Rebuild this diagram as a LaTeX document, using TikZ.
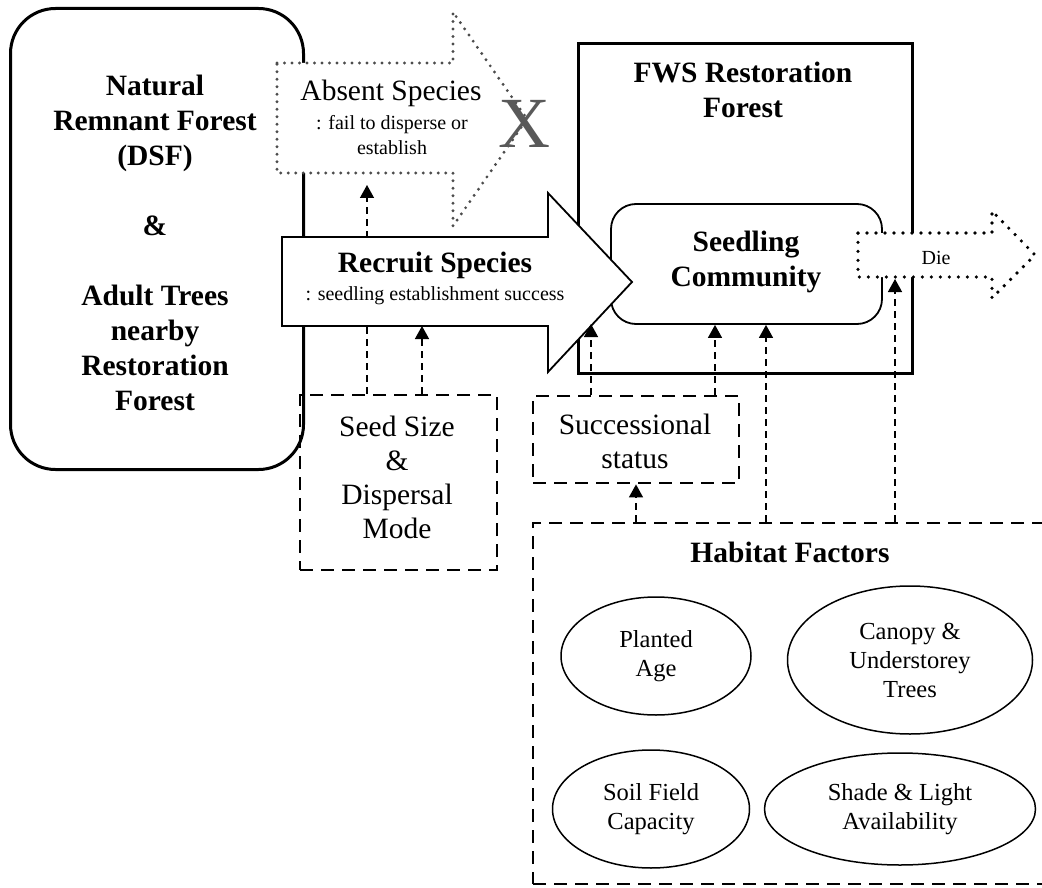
\documentclass[tikz,border=0pt]{standalone}
\usepackage{fontspec}
\setmainfont{Liberation Serif}
\usetikzlibrary{shapes.geometric,arrows.meta}
\begin{document}
\begin{tikzpicture}[x=1pt,y=-1pt,
  bigb/.style={font=\fontsize{29.5}{35}\selectfont\bfseries, align=center, inner sep=0pt},
  reg/.style={font=\fontsize{29.5}{34}\selectfont, align=center, inner sep=0pt},
  small/.style={font=\fontsize{20}{25}\selectfont, align=center, inner sep=0pt},
  ell/.style={draw, line width=1.5pt, ellipse, font=\fontsize{24.5}{29}\selectfont, align=center, inner sep=0pt},
  thickdash/.style={draw, line width=2.8pt, dash pattern=on 13pt off 8pt},
  conn/.style={line width=1.4pt, dash pattern=on 7pt off 5pt, -{Triangle[width=14pt,length=13pt]}},
  graydots/.style={draw=black!70, fill=white, line width=3.2pt, line cap=round, dash pattern=on 0pt off 7.5pt},
  blackdots/.style={draw=black, fill=white, line width=3.6pt, line cap=round, dash pattern=on 0pt off 9pt},
]
\useasboundingbox (0,0) rectangle (1042,888);

% left rounded box
\node[draw, line width=3pt, rounded corners=45pt, minimum width=293pt, minimum height=461pt, anchor=north west, inner sep=0pt] (nat) at (9,7) {};
\node[bigb] (natt) at (155,243) {Natural\\Remnant Forest\\(DSF)\\[35pt]\&\\[35pt]Adult Trees\\nearby\\Restoration\\Forest};

% FWS restoration forest
\node[draw, line width=3pt, minimum width=334pt, minimum height=330pt, anchor=north west, inner sep=0pt] (fws) at (577,42) {};
\node[bigb] (fwst) at (743,90) {FWS Restoration\\Forest};

% seedling community
\node[draw, line width=1.8pt, fill=white, rounded corners=25pt, minimum width=271pt, minimum height=120pt, inner sep=0pt] (sc) at (746.5,264) {};
\node[bigb] (sct) at (746,262) {Seedling\\Community};

% dashed boxes
\node[thickdash, minimum width=197pt, minimum height=175pt, inner sep=0pt] (seed) at (398.5,482.5) {};
\node[reg] (seedt) at (397,477) {Seed Size\\\&\\Dispersal\\Mode};
\node[thickdash, minimum width=206pt, minimum height=87pt, inner sep=0pt] (succ) at (636,439.5) {};
\node[reg] (succt) at (635,441) {Successional\\status};
\node[thickdash, minimum width=527pt, minimum height=361pt, inner sep=0pt] (hab) at (796.5,703.5) {};
\node[bigb] (habt) at (790,552) {Habitat Factors};

% absent species arrow
\draw[graydots] (277,63) -- (453,63) -- (453,12) -- (527,119) -- (453,226) -- (453,173) -- (277,173) -- cycle;
\node[font=\fontsize{29.5}{30}\selectfont, inner sep=0pt] (abs) at (391,93) {Absent Species};
\node[small] (abss) at (392,135) {: fail to disperse or\\establish};
\node[text=black!65, font=\fontsize{72}{72}\selectfont, inner sep=0pt] (xx) at (524,124) {X};

% connector behind the recruit arrow
\coordinate (absb) at (367,185);
\draw[conn] (seed.north -| absb) -- (absb);

% recruit species arrow
\draw[line width=1.8pt, fill=white] (282,237) -- (548,237) -- (548,193) -- (632,282) -- (548,372) -- (548,326) -- (282,326) -- cycle;
\node[font=\fontsize{29.5}{30}\selectfont\bfseries, inner sep=0pt] (rec) at (435,265) {Recruit Species};
\node[small] (recs) at (435,296) {: seedling establishment success};

% die arrow
\draw[blackdots] (858,233) -- (992,233) -- (992,211) -- (1035,255) -- (992,298) -- (992,277) -- (858,277) -- cycle;
\node[small] (die) at (936,258) {Die};

% ellipses
\node[ell, minimum width=190pt, minimum height=118pt] (pa) at (656,656) {Planted\\Age};
\node[ell, minimum width=245pt, minimum height=148pt] (cu) at (910,660) {Canopy \&\\Understorey\\Trees};
\node[ell, minimum width=197pt, minimum height=118pt] (sf) at (651,809) {Soil Field\\Capacity};
\node[ell, minimum width=271pt, minimum height=112pt] (sl) at (900,809) {Shade \& Light\\Availability};

% connector end points
\coordinate (recb) at (422,326);
\coordinate (rech) at (591,324);
\coordinate (dieb) at (895,279);

% connectors
\draw[conn] (seed.north -| recb) -- (recb);
\draw[conn] (succ.north -| rech) -- (rech);
\draw[conn] (succ.north -| 715,0) -- (sc.south -| 715,0);
\draw[conn] (hab.north -| 636,0) -- (succ.south -| 636,0);
\draw[conn] (hab.north -| 766,0) -- (sc.south -| 766,0);
\draw[conn] (hab.north -| dieb) -- (dieb);
\end{tikzpicture}
\end{document}
